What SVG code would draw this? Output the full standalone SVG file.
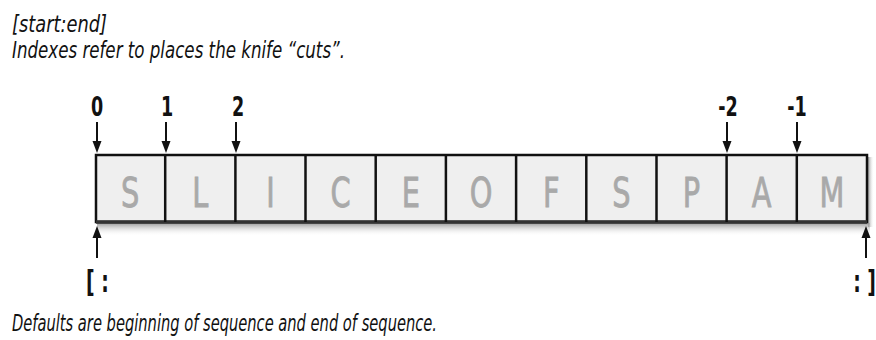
<svg xmlns="http://www.w3.org/2000/svg" width="876" height="340" viewBox="0 0 876 340">
<style>
.cap{font-family:"DejaVu Sans Condensed","DejaVu Sans",sans-serif;font-style:italic;font-size:23px;fill:#111}
.idx{font-family:"DejaVu Sans Condensed","DejaVu Sans",sans-serif;font-weight:bold;font-size:26px;fill:#111;text-anchor:middle}
.brk{font-family:"DejaVu Sans Condensed","DejaVu Sans",sans-serif;font-weight:bold;font-size:30px;fill:#111}
.let{font-family:"DejaVu Sans Condensed","DejaVu Sans",sans-serif;font-size:40px;fill:#a9a9a9;text-anchor:middle;stroke:#a9a9a9;stroke-width:0.8}
.cell{fill:#efefef;stroke:#111;stroke-width:2.5}
.arr{stroke:#111;stroke-width:2;fill:none}
.head{fill:#111}
</style>
<defs>
<linearGradient id="shB" x1="0" y1="0" x2="0" y2="1">
<stop offset="0" stop-color="#9a9a9a"/><stop offset="1" stop-color="#ffffff" stop-opacity="0"/>
</linearGradient>
<linearGradient id="shR" x1="0" y1="0" x2="1" y2="0">
<stop offset="0" stop-color="#9a9a9a"/><stop offset="1" stop-color="#ffffff" stop-opacity="0"/>
</linearGradient>
</defs>
<g id="captions">
<text class="cap" x="12" y="32" textLength="95" lengthAdjust="spacingAndGlyphs">[start:end]</text>
<text class="cap" x="12" y="58" textLength="333" lengthAdjust="spacingAndGlyphs">Indexes refer to places the knife “cuts”.</text>
<text class="cap" x="12" y="331" textLength="425" lengthAdjust="spacingAndGlyphs">Defaults are beginning of sequence and end of sequence.</text>
</g>
<g id="shadow">
<rect x="97" y="223" width="773" height="13" fill="url(#shB)"/>
<rect x="868" y="157" width="6" height="70" fill="url(#shR)"/>
</g>
<g id="sequence">
<rect class="cell" x="96" y="155" width="771" height="67"/>
<line x1="96" y1="222" x2="867" y2="222" stroke="#333" stroke-width="3.5"/>
<g stroke="#111" stroke-width="2.5">
<line x1="165.2" y1="155" x2="165.2" y2="222"/>
<line x1="235.4" y1="155" x2="235.4" y2="222"/>
<line x1="305.5" y1="155" x2="305.5" y2="222"/>
<line x1="375.7" y1="155" x2="375.7" y2="222"/>
<line x1="445.9" y1="155" x2="445.9" y2="222"/>
<line x1="516.1" y1="155" x2="516.1" y2="222"/>
<line x1="586.3" y1="155" x2="586.3" y2="222"/>
<line x1="656.5" y1="155" x2="656.5" y2="222"/>
<line x1="726.6" y1="155" x2="726.6" y2="222"/>
<line x1="796.8" y1="155" x2="796.8" y2="222"/>
</g>
<text class="let" transform="translate(130.1,207) scale(0.8,1)">S</text>
<text class="let" transform="translate(200.3,207) scale(0.8,1)">L</text>
<text class="let" transform="translate(270.5,207) scale(0.8,1)">I</text>
<text class="let" transform="translate(340.6,207) scale(0.8,1)">C</text>
<text class="let" transform="translate(410.8,207) scale(0.8,1)">E</text>
<text class="let" transform="translate(481,207) scale(0.8,1)">O</text>
<text class="let" transform="translate(551.2,207) scale(0.8,1)">F</text>
<text class="let" transform="translate(621.4,207) scale(0.8,1)">S</text>
<text class="let" transform="translate(691.5,207) scale(0.8,1)">P</text>
<text class="let" transform="translate(761.7,207) scale(0.8,1)">A</text>
<text class="let" transform="translate(831.9,207) scale(0.8,1)">M</text>
</g>
<g id="connectors">
<line class="arr" x1="97" y1="122" x2="97" y2="143"/><polygon class="head" points="92.5,141 101.5,141 97,153"/>
<line class="arr" x1="166" y1="122" x2="166" y2="143"/><polygon class="head" points="161.5,141 170.5,141 166,153"/>
<line class="arr" x1="236" y1="122" x2="236" y2="143"/><polygon class="head" points="231.5,141 240.5,141 236,153"/>
<line class="arr" x1="727" y1="122" x2="727" y2="143"/><polygon class="head" points="722.5,141 731.5,141 727,153"/>
<line class="arr" x1="797" y1="122" x2="797" y2="143"/><polygon class="head" points="792.5,141 801.5,141 797,153"/>
<line class="arr" x1="97" y1="258" x2="97" y2="236"/><polygon class="head" points="92.5,238 101.5,238 97,226"/>
<line class="arr" x1="866" y1="258" x2="866" y2="236"/><polygon class="head" points="861.5,238 870.5,238 866,226"/>
</g>
<g id="labels">
<text class="idx" transform="translate(97,116) scale(0.75,1)">0</text>
<text class="idx" transform="translate(167,116) scale(0.75,1)">1</text>
<text class="idx" transform="translate(238,116) scale(0.75,1)">2</text>
<text class="idx" transform="translate(728,116) scale(0.75,1)">-2</text>
<text class="idx" transform="translate(797,116) scale(0.75,1)">-1</text>
<text class="brk" transform="translate(86,292) scale(0.7,1)">[ :</text>
<text class="brk" text-anchor="end" transform="translate(876,292) scale(0.7,1)">: ]</text>
</g>
</svg>
